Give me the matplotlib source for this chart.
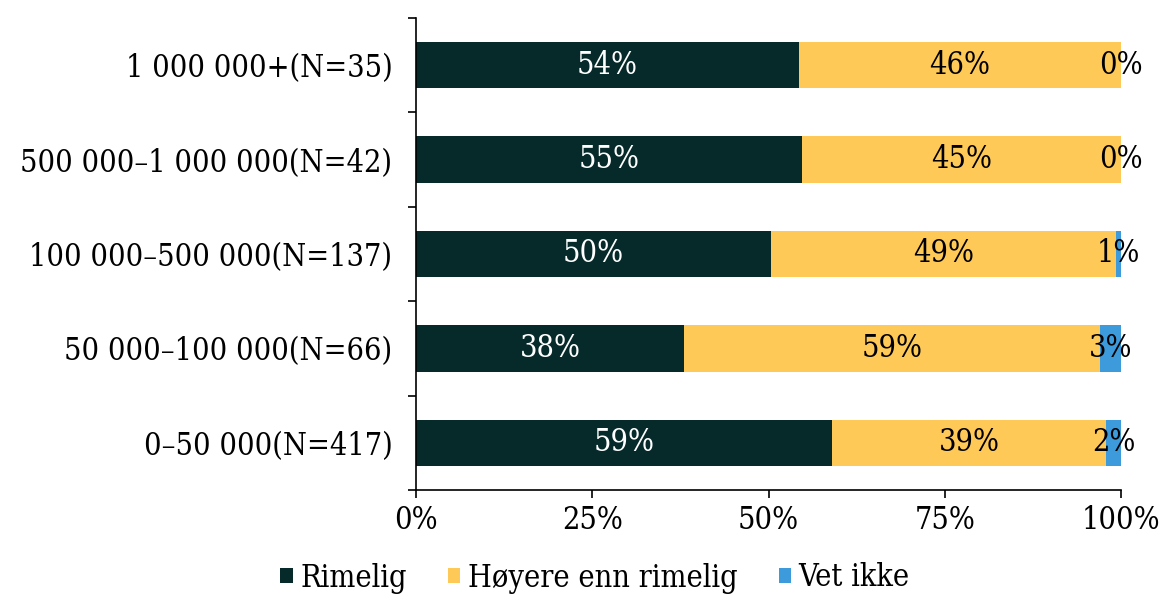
import matplotlib
matplotlib.use("Agg")
import matplotlib.pyplot as plt
import numpy as np

plt.rcParams['font.family'] = ['DejaVu Serif']
plt.rcParams['font.stretch'] = 'condensed'

categories = ["0\u201350 000(N=417)", "50 000\u2013100 000(N=66)", "100 000\u2013500 000(N=137)",
              "500 000\u20131 000 000(N=42)", "1 000 000+(N=35)"]
series_names = ["Rimelig", "H\u00f8yere enn rimelig", "Vet ikke"]
rimelig = [59.0, 38.0, 50.4, 54.8, 54.3]
hoyere = [38.9, 59.0, 48.9, 45.2, 45.7]
vet_ikke = [2.1, 3.0, 0.7, 0.0, 0.0]
labels_rimelig = ["59%", "38%", "50%", "55%", "54%"]
labels_hoyere = ["39%", "59%", "49%", "45%", "46%"]
labels_vet = ["2%", "3%", "1%", "0%", "0%"]
xticks = [0, 25, 50, 75, 100]
xticklabels = ["0%", "25%", "50%", "75%", "100%"]

colors = ["#06292A", "#FEC957", "#3E9BDB"]
text_colors = ["white", "black", "black"]

fig = plt.figure(figsize=(11.64, 5.96), dpi=100)
ax = fig.add_axes([416/1164, 1-490/596, (1121-416)/1164, (490-18)/596])

y = np.arange(len(categories))
left = np.zeros(len(categories))
fs = 22
for vals, labs, c, tc, name in zip([rimelig, hoyere, vet_ikke],
                                    [labels_rimelig, labels_hoyere, labels_vet],
                                    colors, text_colors, series_names):
    vals = np.array(vals)
    ax.barh(y, vals, left=left, height=0.49, color=c, label=name)
    for yi, l, v, t in zip(y, left, vals, labs):
        ax.text(l + v/2, yi, t, ha='center', va='center', color=tc, fontsize=fs)
    left = left + vals

ax.set_xlim(0, 100)
ax.set_ylim(-0.5, len(categories)-0.5)
ax.set_xticks(xticks)
ax.set_xticklabels(xticklabels, fontsize=fs)
ax.set_yticks(y)
ax.set_yticklabels(categories, fontsize=fs)
ax.set_yticks(np.arange(-0.5, len(categories), 1), minor=True)
ax.tick_params(axis='y', which='major', length=0, pad=17)
ax.tick_params(axis='y', which='minor', length=6, width=1.2, direction='out')
ax.tick_params(axis='x', which='major', length=6, width=1.2, direction='out', pad=5)
for s in ['top', 'right']:
    ax.spines[s].set_visible(False)
for s in ['left', 'bottom']:
    ax.spines[s].set_linewidth(1.2)

handles, labels = ax.get_legend_handles_labels()
fig.legend(handles, labels, loc='center', bbox_to_anchor=(595/1164, 1-578/596), ncol=3,
           frameon=False, fontsize=fs, handlelength=0.4, handleheight=0.4,
           handletextpad=0.25, columnspacing=1.35)

fig.savefig("out.png", dpi=100)
